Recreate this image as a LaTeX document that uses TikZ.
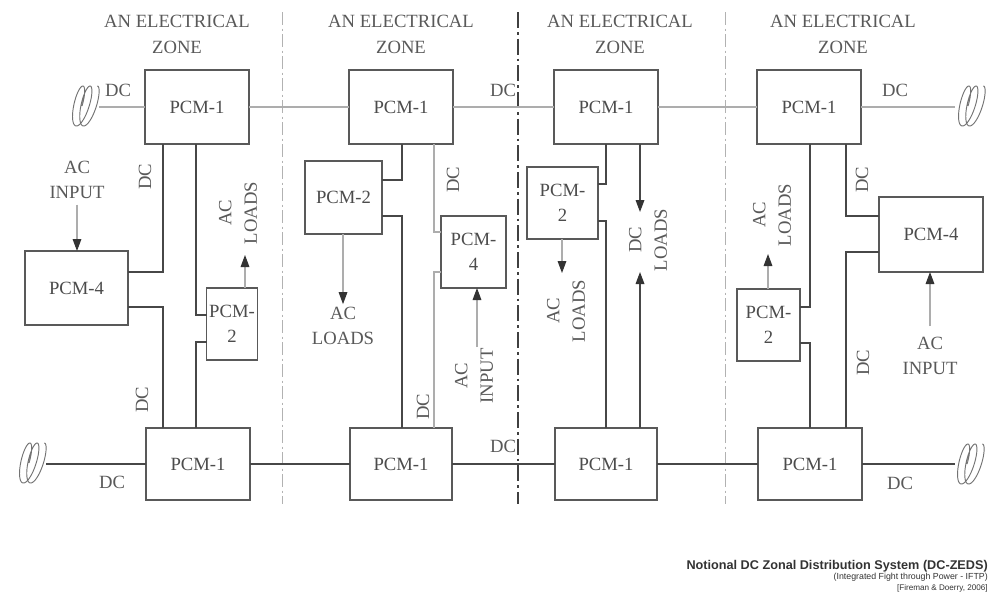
\documentclass[tikz,border=0pt]{standalone}
\usepackage{fontspec}
\setmainfont{Liberation Serif}
\newfontfamily\capfont{Liberation Sans}
\usetikzlibrary{arrows.meta}
\newcommand\mysquig[2]{\draw[squig] plot[smooth, domain=0:810, samples=100, variable=\t] ({#1-8+1.15*\t/57.3+6*cos(\t)+5*sin(\t)},{#2-20*sin(\t)});}
\begin{document}
\begin{tikzpicture}[x=0.75pt,y=-0.75pt,
  dk/.style={draw=black!72, line width=0.9pt},
  lt/.style={draw=black!32, line width=0.8pt},
  box/.style 2 args={draw=black!65, line width=0.9pt, minimum width=#1*0.75pt, minimum height=#2*0.75pt, inner sep=0pt, outer sep=0pt, font=\fontsize{14}{19}\selectfont, text=black!70, align=center},
  lbl/.style={font=\fontsize{14}{19}\selectfont, text=black!65, align=center, inner sep=0pt},
  vlbl/.style={lbl, rotate=90},
  tip/.style={-{Triangle[length=9pt,width=6.5pt,color=black!80]}},
  zdiv/.style={draw=black!30, line width=0.7pt, dash pattern=on 10pt off 2.5pt on 1.5pt off 2.5pt},
  zdivdk/.style={draw=black!75, line width=1pt, dash pattern=on 12pt off 3pt on 2pt off 3pt},
  squig/.style={draw=black!55, line width=0.7pt},
]
\fill[white] (0,0) rectangle (994,603);

% helper coordinates
\foreach \v in {163,196,245,402,434,477,562,606,640,768,810,846}{\coordinate (x\v) at (\v,0);}
\foreach \v in {180,184,212,216,221,232,252,254,255,272,273,307,315,342,343,347}{\coordinate (y\v) at (0,\v);}

% zone titles
\foreach \cx/\n in {177/1,401/2,620/3,843/4}{
  \node[lbl, font=\fontsize{14}{19.5}\selectfont] (zt\n) at (\cx,34) {AN ELECTRICAL\\ZONE};
}

% zone dividers
\coordinate (d1t) at (282,12); \coordinate (d1b) at (282,504);
\coordinate (d2t) at (518,12); \coordinate (d2b) at (518,504);
\coordinate (d3t) at (725,12); \coordinate (d3b) at (725,504);
\draw[zdiv] (d1t) -- (d1b);
\draw[zdivdk] (d2t) -- (d2b);
\draw[zdiv] (d3t) -- (d3b);

% boxes
\node[box={104}{74}] (T1) at (197,107) {PCM-1};
\node[box={104}{74}] (T2) at (401,107) {PCM-1};
\node[box={104}{74}] (T3) at (606,107) {PCM-1};
\node[box={104}{74}] (T4) at (809,107) {PCM-1};
\node[box={104}{72}] (B1) at (198,464) {PCM-1};
\node[box={102}{72}] (B2) at (401,464) {PCM-1};
\node[box={102}{72}] (B3) at (606,464) {PCM-1};
\node[box={104}{72}] (B4) at (810,464) {PCM-1};
\node[box={103}{74}] (P4a) at (76.5,288) {PCM-4};
\node[box={51}{72}] (P2a) at (232,324) {PCM-\\2};
\node[box={77}{73}] (P2b) at (343.5,197.5) {PCM-2};
\node[box={65}{72}] (P4b) at (473.5,252) {PCM-\\4};
\node[box={71}{72}] (P2c) at (562.5,203) {PCM-\\2};
\node[box={104}{75}] (P4d) at (931,234.5) {PCM-4};
\node[box={63}{72}] (P2d) at (768.5,325) {PCM-\\2};

% squiggles (bus breaks)
\mysquig{84}{106}
\mysquig{970}{106}
\mysquig{31}{463}
\mysquig{969}{464}
\coordinate (sTL) at (99,107);
\coordinate (sTR) at (955,107);
\coordinate (sBL) at (46,464);
\coordinate (sBR) at (955,464);

% top bus
\draw[lt] (sTL) -- (T1.west);
\draw[lt] (T1.east) -- (T2.west);
\draw[lt] (T2.east) -- (T3.west);
\draw[lt] (T3.east) -- (T4.west);
\draw[lt] (T4.east) -- (sTR);
% bottom bus
\draw[dk] (sBL) -- (B1.west);
\draw[dk] (B1.east) -- (B2.west);
\draw[dk] (B2.east) -- (B3.west);
\draw[dk] (B3.east) -- (B4.west);
\draw[dk] (B4.east) -- (sBR);

% bus DC labels
\node[lbl] (dch1) at (118,90) {DC};
\node[lbl] (dch2) at (503,90) {DC};
\node[lbl] (dch3) at (895,90) {DC};
\node[lbl] (dch4) at (112,482) {DC};
\node[lbl] (dch5) at (503,446) {DC};
\node[lbl] (dch6) at (900,483) {DC};

% ---- zone 1
\draw[dk] (T1.south -| x163) |- (P4a.east |- y272);
\draw[dk] (P4a.east |- y307) -| (B1.north -| x163);
\draw[dk] (T1.south -| x196) |- (P2a.west |- y315);
\draw[dk] (P2a.west |- y342) -| (B1.north -| x196);
\node[vlbl] (dc1a) at (145,177) {DC};
\node[vlbl] (dc1b) at (142,400) {DC};
\node[lbl] (acin1) at (77,180) {AC\\INPUT};
\draw[lt,tip,shorten <=4pt] (acin1.south) -- (acin1.south |- P4a.north);
\node[vlbl] (acl1) at (238,213) {AC\\LOADS};
\draw[lt,tip] (P2a.north -| x245) -- (x245 |- y255);

% ---- zone 2
\draw[dk] (T2.south -| x402) |- (P2b.east |- y180);
\draw[dk] (P2b.east |- y216) -| (B2.north -| x402);
\draw[lt] (T2.south -| x434) |- (P4b.west |- y232);
\draw[lt] (P4b.west |- y272) -| (B2.north -| x434);
\node[lbl] (acl2) at (343,326) {AC\\LOADS};
\draw[lt,tip,shorten >=2pt] (P2b.south -| acl2.north) -- (acl2.north);
\node[vlbl] (dc2a) at (453,180) {DC};
\node[vlbl] (dc2b) at (423,407) {DC};
\node[vlbl] (acin2) at (474,376) {AC\\INPUT};
\draw[lt,tip] (x477 |- y347) -- (P4b.south -| x477);

% ---- zone 3
\draw[dk] (T3.south -| x606) |- (P2c.east |- y184);
\draw[dk] (P2c.east |- y221) -| (B3.north -| x606);
\draw[dk,tip] (T3.south -| x640) -- (x640 |- y212);
\draw[dk,tip] (B3.north -| x640) -- (x640 |- y272);
\node[vlbl] (dcl3) at (648,240) {DC\\LOADS};
\draw[lt,tip] (P2c.south -| x562) -- (x562 |- y273);
\node[vlbl] (acl3) at (566,311) {AC\\LOADS};

% ---- zone 4
\draw[dk] (T4.south -| x846) |- (P4d.west |- y216);
\draw[dk] (P4d.west |- y252) -| (B4.north -| x846);
\draw[dk] (T4.south -| x810) |- (P2d.east |- y307);
\draw[dk] (P2d.east |- y343) -| (B4.north -| x810);
\draw[lt,tip] (P2d.north -| x768) -- (x768 |- y254);
\node[vlbl] (acl4) at (772,215) {AC\\LOADS};
\node[lbl] (acin4) at (930,356) {AC\\INPUT};
\draw[lt,tip,shorten <=8pt] (acin4.north) -- (acin4.north |- P4d.south);
\node[vlbl] (dc4a) at (862,180) {DC};
\node[vlbl] (dc4b) at (863,363) {DC};

% caption
\node[anchor=east, inner sep=0pt, text=black!80, font=\capfont\bfseries\fontsize{9.5}{11}\selectfont] (cap1) at (988,566) {Notional DC Zonal Distribution System (DC-ZEDS)};
\node[anchor=east, inner sep=0pt, text=black!80, font=\capfont\fontsize{6.6}{7}\selectfont] (cap2) at (988,577) {(Integrated Fight through Power - IFTP)};
\node[anchor=east, inner sep=0pt, text=black!80, font=\capfont\fontsize{6.1}{7}\selectfont] (cap3) at (988,588) {[Fireman \& Doerry, 2006]};
\end{tikzpicture}
\end{document}
